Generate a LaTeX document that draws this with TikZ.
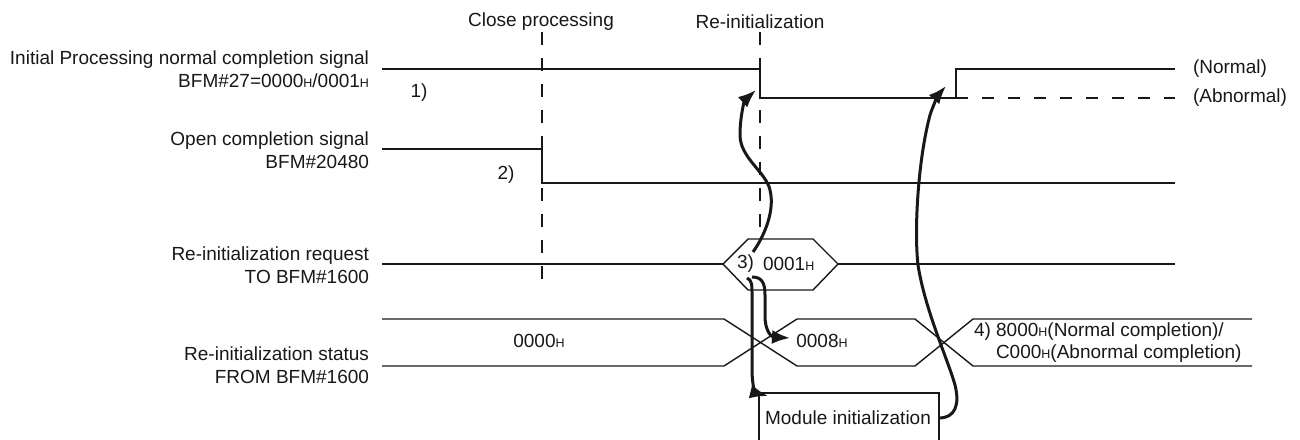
\documentclass[tikz,border=0pt]{standalone}
\usepackage{fontspec}
\setmainfont{Liberation Sans}
\usetikzlibrary{arrows.meta}
\definecolor{ink}{HTML}{1A1718}
\newcommand{\hsub}{{\fontsize{12.5}{12.5}\selectfont H}}
\begin{document}
\begin{tikzpicture}[x=1pt,y=-1pt,
  every node/.style={inner sep=0pt, outer sep=0pt, text=ink, font=\fontsize{19}{23}\selectfont},
  wave/.style={draw=ink, line width=1.4pt, line join=miter},
  guide/.style={draw=ink, line width=1.4pt, dash pattern=on 13pt off 13pt},
  abn/.style={draw=ink, line width=1.4pt, dash pattern=on 12pt off 14pt},
  flow/.style={draw=ink, line width=3pt, -{Latex[length=18pt,width=14pt]}},
  lbl/.style={align=right, anchor=east}]
\useasboundingbox (0,0) rectangle (1300,439);

% headings
\node (hclose) at (541,22) {Close processing};
\node (hreinit) at (760,22) {Re-initialization};

% row labels
\node[lbl] (l1) at (369,69) {Initial Processing normal completion signal\\BFM\#27=0000\hsub/0001\hsub};
\node[lbl] (l2) at (369,150) {Open completion signal\\BFM\#20480};
\node[lbl] (l3) at (369,265) {Re-initialization request\\TO BFM\#1600};
\node[lbl] (l4) at (369,365) {Re-initialization status\\FROM BFM\#1600};

% guide lines
\coordinate (g1a) at (542,32); \coordinate (g1b) at (542,283);
\coordinate (g2a) at (760,32); \coordinate (g2b) at (760,239);
\draw[guide] (g1a) -- (g1b);
\draw[guide] (g2a) -- (g2b);

% row 1
\coordinate (r1s) at (382,69);
\coordinate (r1d) at (760,69);
\coordinate (r1l) at (760,98);
\coordinate (r1u) at (956,98);
\coordinate (r1h) at (956,69);
\coordinate (r1e) at (1175,69);
\coordinate (r1ae) at (1175,98);
\draw[wave] (r1s) -- (r1d) -- (r1l) -- (r1u) -- (r1h) -- (r1e);
\draw[abn] (r1u) -- (r1ae);
\node[anchor=west] (normal) at (1193,69) {(Normal)};
\node[anchor=west] (abnormal) at (1193,98) {(Abnormal)};
\node (n1) at (419,93) {1)};

% row 2
\coordinate (r2s) at (382,149);
\coordinate (r2d) at (542,149);
\coordinate (r2l) at (542,183);
\coordinate (r2e) at (1175,183);
\draw[wave] (r2s) -- (r2d) -- (r2l) -- (r2e);
\node (n2) at (506,175) {2)};

% row 3
\coordinate (r3s) at (382,264);
\coordinate (hxl) at (723,264);
\coordinate (hxtl) at (748,239);
\coordinate (hxtr) at (813,239);
\coordinate (hxr) at (838,264);
\coordinate (hxbr) at (813,290);
\coordinate (hxbl) at (748,290);
\coordinate (r3e) at (1175,264);
\draw[wave] (r3s) -- (hxl);
\draw[wave] (hxl) -- (hxtl) -- (hxtr) -- (hxr) -- (hxbr) -- (hxbl) -- cycle;
\draw[wave] (hxr) -- (r3e);
\node[anchor=west] (n3) at (737,264) {3)};
\node[anchor=west] (v0001) at (763,264) {0001\hsub};

% row 4 (bus)
\coordinate (bTs) at (382,319); \coordinate (bBs) at (382,366);
\coordinate (x1a) at (724,319); \coordinate (x1b) at (724,366);
\coordinate (x1c) at (797,319); \coordinate (x1d) at (797,366);
\coordinate (x2a) at (915,319); \coordinate (x2b) at (915,366);
\coordinate (x2c) at (973,319); \coordinate (x2d) at (973,366);
\coordinate (bTe) at (1252,319); \coordinate (bBe) at (1252,366);
\draw[wave] (bTs) -- (x1a) -- (x1d) -- (x2b) -- (x2c) -- (bTe);
\draw[wave] (bBs) -- (x1b) -- (x1c) -- (x2a) -- (x2d) -- (bBe);
\node (v0000) at (539,341) {0000\hsub};
\node (v0008) at (822,341) {0008\hsub};
\node[anchor=west] (v8000) at (974,332) {4) 8000\hsub(Normal completion)/};
\node[anchor=west] (vC000) at (996,354) {C000\hsub(Abnormal completion)};

% module initialization box
\coordinate (mbl) at (759,440); \coordinate (mtl) at (759,393);
\coordinate (mtr) at (939,393); \coordinate (mbr) at (939,440);
\draw[wave] (mbl) -- (mtl) -- (mtr) -- (mbr);
\node (modinit) at (848,418) {Module initialization};

% arrows
\coordinate (aAs) at (753,252); \coordinate (aAe) at (756,90);
\draw[flow] (aAs) .. controls (765,235) and (775,210) .. (770,190)
  .. controls (766,172) and (740,158) .. (740,135)
  .. controls (740,115) and (745,100) .. (aAe);
\coordinate (aBs) at (747,278); \coordinate (aBe) at (768,396);
\draw[flow] (aBs) .. controls (752,280) and (752,285) .. (752,295) -- (752,370)
  .. controls (752,386) and (756,393) .. (aBe);
\coordinate (aCs) at (752,277); \coordinate (aCe) at (790,338);
\draw[flow] (aCs) .. controls (762,277) and (765,283) .. (765,295) -- (765,316)
  .. controls (765,332) and (772,337) .. (aCe);
\coordinate (aDs) at (939,418); \coordinate (aDe) at (946,86);
\draw[flow] (aDs) .. controls (955,418) and (960,405) .. (955,385)
  .. controls (948,360) and (925,310) .. (918,265)
  .. controls (914,230) and (918,160) .. (930,115)
  .. controls (934,103) and (939,94) .. (aDe);
\end{tikzpicture}
\end{document}
